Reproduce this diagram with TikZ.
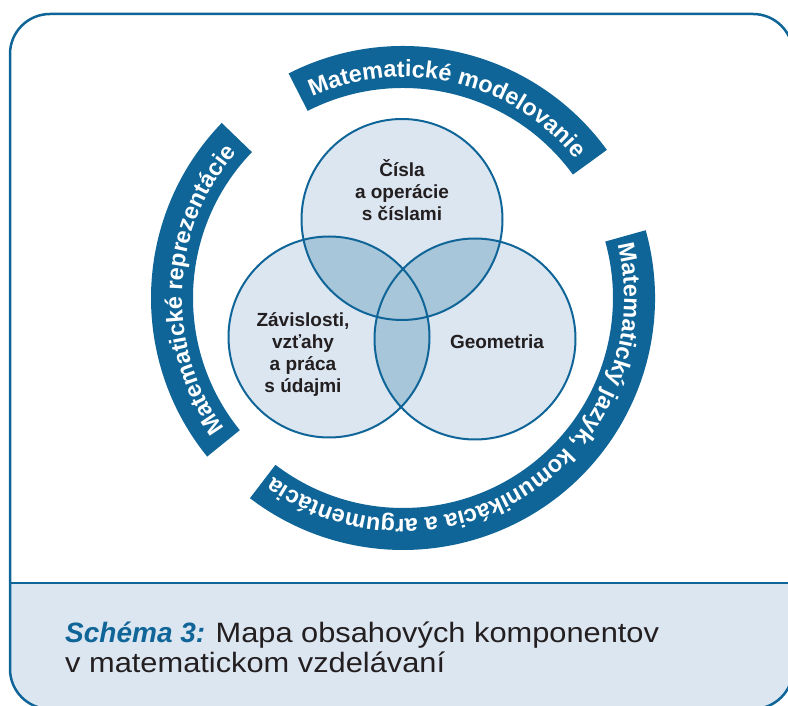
\documentclass[tikz,border=0pt]{standalone}
\usepackage{fontspec}
\setmainfont{Liberation Sans}
\newfontfamily\capwide[FakeStretch=1.1]{Liberation Sans}
\usetikzlibrary{decorations.text}
\definecolor{bandblue}{HTML}{0F6597}
\definecolor{vennfill}{HTML}{DCE6F1}
\definecolor{vennover}{HTML}{A8C6D9}
\definecolor{inkdark}{HTML}{231F20}
\newcommand{\bandfont}{\fontsize{23.5}{23.5}\selectfont\bfseries}
\tikzset{venn/.style={circle, fill=vennfill, minimum size=201pt, inner sep=0pt},
  venntext/.style={align=center, text=inkdark,
    font=\fontsize{19}{22}\selectfont\bfseries},
  captext/.style={anchor=base west, inner sep=0pt, text=inkdark,
    font=\fontsize{28}{30}\selectfont},
  bandtext/.style={decorate, decoration={text along path, text align=center,
      text color=white, text={|\bandfont|#1}}}}
\newcommand{\bandsector}[2]{%
  \fill[bandblue] ([shift={(mid)}]#1:252) arc[start angle=#1, end angle=#2, radius=252]
    -- ([shift={(mid)}]#2:210) arc[start angle=#2, end angle=#1, radius=210] -- cycle;}
\begin{document}
\begin{tikzpicture}[x=1pt, y=1pt]
  \useasboundingbox (0,0) rectangle (788,705);
  \coordinate (mid) at (403,407);
  \begin{scope}
    \clip[rounded corners=40pt] (10,-4) rectangle (793,691);
    \fill[vennfill] (0,-10) rectangle (800,122);
  \end{scope}
  \draw[bandblue, line width=2pt] (10,122) -- (793,122);
  \draw[bandblue, line width=2.5pt, rounded corners=40pt] (10,-4) rectangle (793,691);

  \node[venn] (cisla) at (402,485.5) {};
  \node[venn] (zavis) at (329,368) {};
  \node[venn] (geom) at (475,366) {};
  \begin{scope}
    \clip (cisla.center) circle[radius=100.5];
    \fill[vennover] (zavis.center) circle[radius=100.5] (geom.center) circle[radius=100.5];
  \end{scope}
  \begin{scope}
    \clip (zavis.center) circle[radius=100.5];
    \fill[vennover] (geom.center) circle[radius=100.5];
  \end{scope}
  \foreach \c in {cisla,zavis,geom}
    \draw[bandblue, line width=2pt] (\c.center) circle[radius=100.5];

  \node[venntext] (cislatxt) at (402,515) {Čísla\\a operácie\\s číslami};
  \node[venntext] (zavistxt) at (303,350) {Závislosti,\\vzťahy\\a práca\\s údajmi};
  \node[venntext] (geomtxt) at (497,363) {Geometria};

  \bandsector{117}{36}
  \bandsector{219}{136}
  \bandsector{15.6}{-127.4}
  \path[bandtext={Matematické modelovanie}]
    ([shift={(mid)}]117:221) arc[start angle=117, end angle=36, radius=221];
  \path[bandtext={Matematické reprezentácie}]
    ([shift={(mid)}]219:221) arc[start angle=219, end angle=136, radius=221];
  \path[bandtext={Matematický jazyk, komunikácia a argumentácia}]
    ([shift={(mid)}]15.6:221) arc[start angle=15.6, end angle=-127.4, radius=221];

  \node[captext] (cap1) at (65,63)
    {\textcolor{bandblue}{\bfseries\itshape Schéma 3:} {\capwide Mapa obsahových komponentov}};
  \node[captext] (cap2) at (65,33) {\capwide v matematickom vzdelávaní};
\end{tikzpicture}
\end{document}
